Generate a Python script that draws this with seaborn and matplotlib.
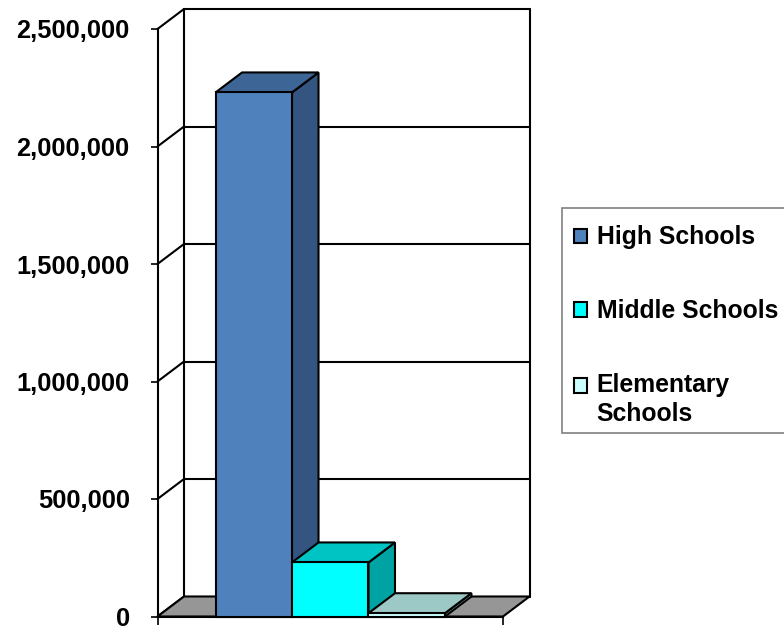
import matplotlib
matplotlib.use("Agg")
import matplotlib.pyplot as plt
from matplotlib.patches import Polygon, Patch, Rectangle
from matplotlib.legend_handler import HandlerPatch
from matplotlib.ticker import FuncFormatter
import seaborn as sns
import pandas as pd

# ---- data ----
schools = ["High Schools", "Middle Schools", "Elementary Schools"]
legend_labels = ["High Schools", "Middle Schools", "Elementary\nSchools"]
counts = [2230000, 230000, 14000]
y_ticks = [0, 500000, 1000000, 1500000, 2000000, 2500000]

front_colors = ["#4F81BD", "#00FFFF", "#CCFFFF"]
top_colors = ["#3D6697", "#00C4C4", "#9CC8C6"]
side_colors = ["#34557F", "#00A3A3", "#8FBFBF"]

sns.set_theme(style="white")
plt.rcParams["font.family"] = ["Liberation Sans", "DejaVu Sans"]
plt.rcParams["text.color"] = "black"

W, H = 784, 628
fig = plt.figure(figsize=(W / 100, H / 100), dpi=100)
left_px, right_px, bottom_px, top_px = 157.5, 503, 616.5, 29
ax = fig.add_axes([left_px / W, (H - bottom_px) / H,
                   (right_px - left_px) / W, (bottom_px - top_px) / H])

df = pd.DataFrame({"group": [""] * len(schools), "school": schools, "count": counts})
sns.barplot(data=df, x="group", y="count", hue="school", hue_order=schools,
            palette=front_colors, saturation=1, width=0.664, gap=0, dodge=True,
            edgecolor="black", linewidth=1.5, legend=False, ax=ax)

ax.set_xlim(-0.5, 0.5)
ax.set_ylim(0, 2500000)

# depth offset in data units
dx_px, dy_px = 26.5, 20
dx = dx_px / (right_px - left_px) * 1.0
dy = dy_px / (bottom_px - top_px) * 2500000

x0a, x1a = ax.get_xlim()
# back wall gridlines and edges
for t in y_ticks:
    ax.plot([x0a + dx, x1a + dx], [t + dy, t + dy], color="black", lw=1.5,
            clip_on=False, zorder=1)
    ax.plot([x0a, x0a + dx], [t, t + dy], color="black", lw=1.5,
            clip_on=False, zorder=1)
for xv in [x0a + dx, x1a + dx]:
    ax.plot([xv, xv], [dy, y_ticks[-1] + dy], color="black", lw=1.5,
            clip_on=False, zorder=1)

# floor
floor = Polygon([(x0a, 0), (x1a, 0), (x1a + dx, dy), (x0a + dx, dy)],
                closed=True, facecolor="#969696", edgecolor="black", lw=1.5,
                clip_on=False, zorder=2)
ax.add_patch(floor)

# 3D faces for bars
bars = [p for p in ax.patches if p is not floor]
bars.sort(key=lambda p: p.get_x())
for i, p in enumerate(bars):
    bx, bw, bh = p.get_x(), p.get_width(), p.get_height()
    z = 3 + i
    side = Polygon([(bx + bw, 0), (bx + bw + dx, dy), (bx + bw + dx, bh + dy), (bx + bw, bh)],
                   closed=True, facecolor=side_colors[i], edgecolor="black", lw=1.5,
                   clip_on=False, zorder=z)
    top = Polygon([(bx, bh), (bx + bw, bh), (bx + bw + dx, bh + dy), (bx + dx, bh + dy)],
                  closed=True, facecolor=top_colors[i], edgecolor="black", lw=1.5,
                  clip_on=False, zorder=z)
    ax.add_patch(side)
    ax.add_patch(top)
    p.set_zorder(z + 0.1)
    p.set_clip_on(False)

# axes styling
for s in ["top", "right"]:
    ax.spines[s].set_visible(False)
ax.spines["left"].set_color("black")
ax.spines["left"].set_linewidth(1.5)
ax.spines["bottom"].set_color("black")
ax.spines["bottom"].set_linewidth(1.5)
ax.spines["left"].set_zorder(1)
ax.set_yticks(y_ticks)
ax.yaxis.set_major_formatter(FuncFormatter(lambda v, _: f"{int(v):,}"))
ax.set_xticks([x0a, x1a])
ax.set_xticklabels(["", ""])
ax.tick_params(axis="y", left=True, direction="out", length=5, width=1.2,
               color="black", pad=15, labelsize=18.3, labelcolor="black")
ax.tick_params(axis="x", bottom=True, direction="out", length=6, width=1.2,
               color="black")
for lab in ax.get_yticklabels():
    lab.set_fontweight("bold")
ax.set_xlabel("")
ax.set_ylabel("")
ax.patch.set_alpha(0)


class FirstLineHandler(HandlerPatch):
    """Align a patch handle with the first line of a two-line label."""
    def __init__(self, shift, **kw):
        super().__init__(**kw)
        self.shift = shift

    def create_artists(self, legend, orig_handle, xdescent, ydescent,
                       width, height, fontsize, trans):
        arts = super().create_artists(legend, orig_handle, xdescent, ydescent,
                                      width, height, fontsize, trans)
        for a in arts:
            a.set_y(a.get_y() + self.shift * fontsize)
        return arts


handles = [Patch(facecolor=c, edgecolor="black", linewidth=1.5) for c in front_colors]
# legend frame
fig.add_artist(Rectangle((562 / W, 1 - 433 / H), (800 - 562) / W, (433 - 208) / H,
                         transform=fig.transFigure, facecolor="white",
                         edgecolor="#808080", linewidth=1.2, zorder=5))
leg = fig.legend(handles, legend_labels, loc="upper left",
                 bbox_to_anchor=(562 / W, 1 - 213 / H), bbox_transform=fig.transFigure,
                 borderaxespad=0, frameon=False,
                 handlelength=0.5, handleheight=0.5,
                 handletextpad=0.4, labelspacing=2.02, borderpad=0.5,
                 prop={"weight": "bold", "size": 17.8},
                 handler_map={handles[2]: FirstLineHandler(0.6)})
leg.set_zorder(6)
for t in leg.get_texts():
    t.set_color("black")
    t.set_linespacing(1.25)

fig.savefig("out.png", dpi=100)
